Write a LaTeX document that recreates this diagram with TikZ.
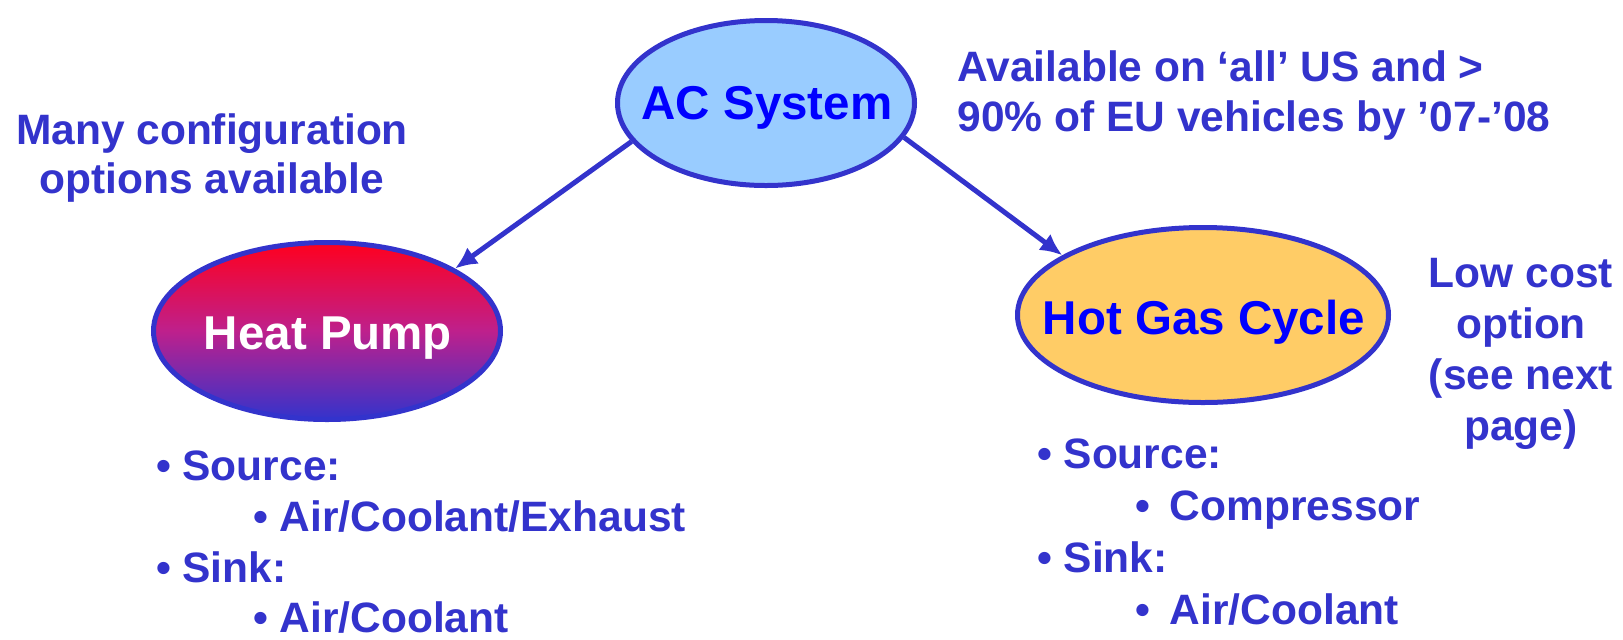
\documentclass[tikz,border=0pt]{standalone}
\usepackage{fontspec}
\setmainfont{Liberation Sans}
\usetikzlibrary{shapes.geometric,arrows.meta}
\definecolor{bord}{RGB}{51,51,204}
\definecolor{txtb}{RGB}{51,51,204}
\definecolor{pureb}{RGB}{0,0,255}
\definecolor{acfill}{RGB}{153,204,255}
\definecolor{hgfill}{RGB}{255,204,102}
\definecolor{hptop}{RGB}{255,0,30}
\definecolor{hpmid}{RGB}{190,32,140}
\definecolor{hpbot}{RGB}{51,51,204}
\tikzset{
  oval/.style={ellipse, draw=bord, line width=2.5pt, inner sep=0pt},
  bigtxt/.style={font=\fontsize{23.75pt}{28pt}\selectfont\bfseries, inner sep=0pt, anchor=base},
  smalltxt/.style={font=\fontsize{21.25pt}{25.5pt}\selectfont\bfseries, text=txtb, inner sep=0pt},
  conn/.style={draw=bord, line width=2.5pt, -{Latex[length=11pt,width=10pt]}}
}
\begin{document}
\begin{tikzpicture}[x=0.5pt,y=-0.5pt]
\useasboundingbox (0,0) rectangle (1623,639);
% ellipses
\node[oval, fill=acfill, minimum width=148.5pt, minimum height=82.5pt] (ac) at (766,103) {};
\node[oval, top color=hptop, bottom color=hpbot, middle color=hpmid, minimum width=173.5pt, minimum height=88.5pt] (hp) at (327,331) {};
\node[oval, fill=hgfill, minimum width=185.5pt, minimum height=87.5pt] (hg) at (1203,315) {};
% ellipse labels
\node[bigtxt, text=pureb] (actxt) at (767,119) {AC System};
\node[bigtxt, text=white] (hptxt) at (328,349) {Heat Pump};
\node[bigtxt, text=pureb] (hgtxt) at (1204,334) {Hot Gas Cycle};
% connectors
\draw[conn] (ac.196) -- (hp.26);
\draw[conn] (ac.-14) -- (hg.157);
% notes
\node[smalltxt, anchor=base] (m1) at (212,144) {Many configuration};
\node[smalltxt, anchor=base] (m2) at (212,193) {options available};
\node[smalltxt, anchor=base west] (a1) at (957,81) {Available on ‘all’ US and >};
\node[smalltxt, anchor=base west] (a2) at (957,131) {90\% of EU vehicles by ’07-’08};
\node[smalltxt, anchor=base] (l1) at (1521,287) {Low cost};
\node[smalltxt, anchor=base] (l2) at (1521,338) {option};
\node[smalltxt, anchor=base] (l3) at (1521,389) {(see next};
\node[smalltxt, anchor=base] (l4) at (1521,440) {page)};
% left bullets
\node[smalltxt, anchor=base west] (b1) at (155.6,480) {• Source:};
\node[smalltxt, anchor=base west] (b2) at (252.6,531) {• Air/Coolant/Exhaust};
\node[smalltxt, anchor=base west] (b3) at (155.6,582) {• Sink:};
\node[smalltxt, anchor=base west] (b4) at (252.6,632) {• Air/Coolant};
% right bullets
\node[smalltxt, anchor=base west] (c1) at (1036.6,468) {• Source:};
\node[smalltxt, anchor=base west] (c2) at (1134.6,520) {•\hspace{10pt}Compressor};
\node[smalltxt, anchor=base west] (c3) at (1036.6,572) {• Sink:};
\node[smalltxt, anchor=base west] (c4) at (1134.6,624) {•\hspace{10pt}Air/Coolant};
\end{tikzpicture}
\end{document}
